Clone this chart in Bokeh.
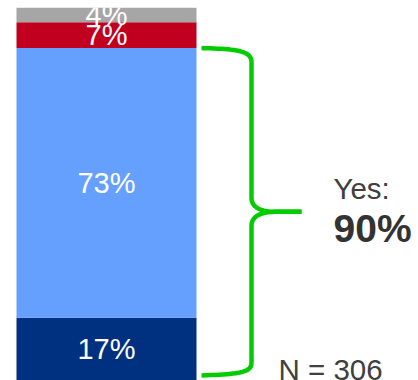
import numpy as np
from bokeh.plotting import figure
from bokeh.models import Range1d, ColumnDataSource, Label
from bokeh.core.properties import value
from bokeh.embed import file_html
from bokeh.resources import INLINE

# Stacked shares (percent), listed bottom to top
shares = [17, 73, 7, 4]
seg_colors = ["#003080", "#65A0FF", "#C0001E", "#A6A6A6"]
yes_shares = shares[:2]          # the two segments grouped by the brace
n_resp = 306

yes_total = sum(yes_shares)
tops = list(np.cumsum(shares))
bottoms = [0] + tops[:-1]
mids = [(b + t) / 2 for b, t in zip(bottoms, tops)]
labels = [f"{s}%" for s in shares]

W, H, TOP_PAD = 418, 380, 7
y_max = sum(shares)
px = (H - TOP_PAD) / y_max      # pixels per percentage point
u = 1 / px                      # one pixel in data units

p = figure(width=W, height=H, x_range=Range1d(0, W), y_range=Range1d(0, y_max),
           output_backend="svg", toolbar_location=None,
           x_axis_location=None, y_axis_location=None,
           min_border_top=TOP_PAD, min_border_bottom=0,
           min_border_left=0, min_border_right=0)
p.grid.visible = False
p.outline_line_color = None
p.background_fill_color = "white"
p.border_fill_color = "white"

FONT = "Liberation Sans"
bar_x, bar_w = 106, 180

src = ColumnDataSource(dict(bottom=bottoms, top=tops, mid=mids, label=labels,
                            color=seg_colors))
p.vbar(x=bar_x, width=bar_w, bottom="bottom", top="top", fill_color="color",
       line_color=None, source=src)
p.text(x=bar_x, y="mid", text="label", source=src, text_color="white",
       text_font=value(FONT), text_font_size="29px", text_align="center",
       text_baseline="middle")


def cubic(p0, p1, p2, p3, n=24):
    t = np.linspace(0, 1, n)[:, None]
    pts = ((1 - t) ** 3) * np.array(p0) + 3 * ((1 - t) ** 2) * t * np.array(p1) \
        + 3 * (1 - t) * t ** 2 * np.array(p2) + t ** 3 * np.array(p3)
    return pts[:, 0].tolist(), pts[:, 1].tolist()


# Curly brace spanning the "yes" segments
x0, xs, xt = 201, 251, 301
y_top = yes_total
y_bot = 5 * u
y_mid = (y_top + y_bot) / 2

# upper half: top hook, down the spine, out to the tip
ax, ay = cubic((x0, y_top), (235, y_top - 0.8 * u), (xs, y_top - 2.3 * u), (xs, y_top - 14 * u))
bx, by = cubic((xs, y_mid + 14 * u), (xs, y_mid + 3.5 * u), (262, y_mid), (276, y_mid))
upper_x = ax + bx + [xt]
upper_y = ay + by + [y_mid]

# lower half: bottom hook, up the spine, out to the tip
dx, dy = cubic((x0, y_bot), (240, y_bot + 1.5 * u), (xs, y_bot + 3 * u), (xs, y_bot + 13 * u))
cx, cy = cubic((xs, y_mid - 14 * u), (xs, y_mid - 3.5 * u), (262, y_mid), (276, y_mid))
lower_x = dx + cx + [xt]
lower_y = dy + cy + [y_mid]

p.multi_line(xs=[upper_x, lower_x], ys=[upper_y, lower_y], line_color="#00CC00",
             line_width=4.5, line_join="round", line_cap="butt")

p.add_layout(Label(x=333, y=(H - 188) * u, text="Yes:", text_color="#404040",
                   text_font=FONT, text_font_size="29.5px",
                   text_baseline="alphabetic"))
p.add_layout(Label(x=333, y=(H - 228) * u, text=f"{yes_total}%", text_color="#333333",
                   text_font=FONT, text_font_size="39px", text_font_style="bold",
                   text_baseline="alphabetic"))
p.add_layout(Label(x=278, y=(H - 369) * u, text=f"N = {n_resp}", text_color="#404040",
                   text_font=FONT, text_font_size="29.5px",
                   text_baseline="alphabetic"))

open("out.html", "w").write(file_html(p, INLINE))
